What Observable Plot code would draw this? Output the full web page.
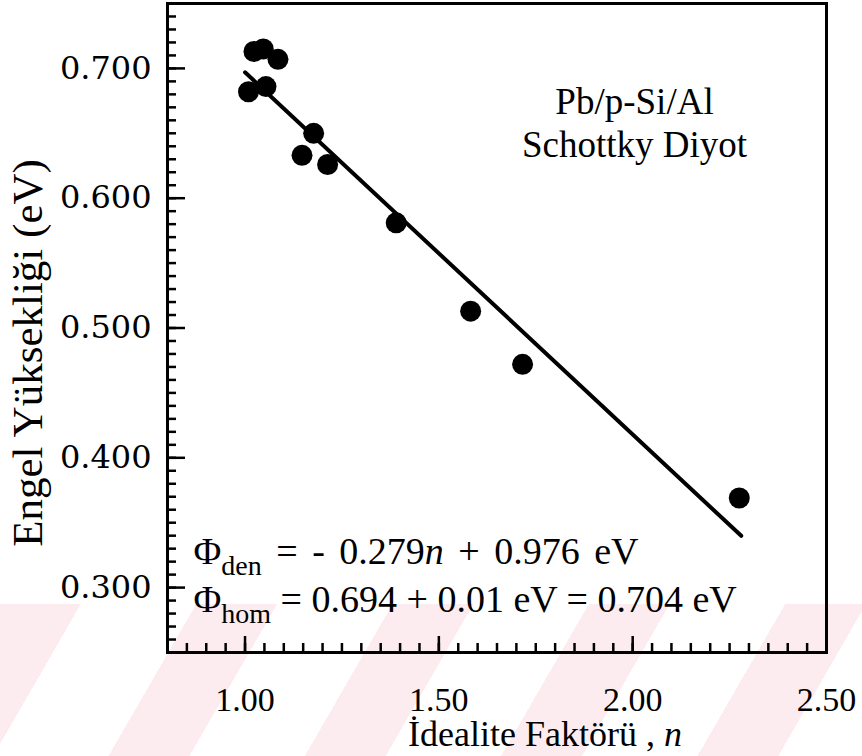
<!DOCTYPE html>
<html>
<head>
<meta charset="utf-8">
<script src="https://cdn.jsdelivr.net/npm/d3@7"></script>
<script src="https://cdn.jsdelivr.net/npm/@observablehq/plot@0.6"></script>
<style>
  html, body { margin: 0; padding: 0; background: #fff; }
  #chart { position: relative; width: 862px; height: 756px; overflow: hidden; }
  /* faint pink diagonal band along the bottom of the page */
  #band {
    position: absolute; left: 0; top: 604px; width: 862px; height: 152px;
    background: repeating-linear-gradient(120deg, rgba(247, 192, 202, 0.30) 0 70px, rgba(255, 255, 255, 0) 70px 170px);
  }
  #chart svg { position: absolute; left: 0; top: 0; }
  #chart svg, #chart svg text { font-family: "Liberation Serif", "Times New Roman", serif; }
  #chart svg g[aria-label="y-axis tick label"] text { font-family: "DejaVu Serif", serif; }
</style>
</head>
<body>
<div id="chart"><div id="band"></div></div>
<script>
// Barrier height vs. ideality factor for Pb/p-Si/Al Schottky diodes
const idealityFactor = [1.009, 1.023, 1.047, 1.054, 1.085, 1.147, 1.177, 1.213, 1.390, 1.582, 1.716, 2.275];
const barrierHeight  = [0.682, 0.713, 0.715, 0.686, 0.707, 0.633, 0.650, 0.626, 0.581, 0.513, 0.472, 0.369];

// linear fit  Φ = -0.279 n + 0.976 eV, drawn over the measured n range
const fitSlope = -0.279;
const fitIntercept = 0.976;
const fitRange = [1.00, 2.28];

const xTicks = [1.00, 1.50, 2.00, 2.50];
const yTicks = [0.300, 0.400, 0.500, 0.600, 0.700];
const xDomain = [0.80, 2.50];
const yDomain = [0.25, 0.75];

const xTitleParts = [{text: "İdealite Faktörü , "}, {text: "n", italic: true}];
const yTitle = "Engel Yüksekliği (eV)";
const deviceLabel = "Pb/p-Si/Al\nSchottky Diyot";
const fitEquationParts = [
  {text: "Φ"}, {text: "den", sub: true}, {text: " = - 0.279"}, {text: "n", italic: true}, {text: " + 0.976 eV"}
];
const homogeneousParts = [
  {text: "Φ"}, {text: "hom", sub: true}, {text: " = 0.694 + 0.01 eV = 0.704 eV"}
];

const xMinor = d3.range(0, 35).map(i => +(xDomain[0] + i * 0.05).toFixed(2));
const yMinor = d3.range(0, 51).map(i => +(yDomain[0] + i * 0.01).toFixed(2));

const points = idealityFactor.map((n, i) => ({n, phi: barrierHeight[i]}));
const fit = fitRange.map(n => ({n, phi: fitSlope * n + fitIntercept}));

const plain = parts => parts.map(p => p.text).join("");
const tickStyle = {stroke: "#000", strokeWidth: 2.5, text: null, label: null};

const plot = Plot.plot({
  width: 862,
  height: 756,
  marginLeft: 167,
  marginRight: 36,
  marginTop: 3,
  marginBottom: 104,
  style: {fontFamily: "Liberation Serif", fontSize: "36px", color: "#000", background: "transparent", overflow: "visible"},
  x: {domain: xDomain},
  y: {domain: yDomain},
  marks: [
    // inward tick marks on the bottom and left edges
    Plot.axisX(xMinor, {...tickStyle, tickSize: -9}),
    Plot.axisX(xTicks, {...tickStyle, tickSize: -16}),
    Plot.axisY(yMinor, {...tickStyle, tickSize: -9}),
    Plot.axisY(yTicks, {...tickStyle, tickSize: -18}),
    // tick labels
    Plot.axisX(xTicks, {tickSize: 0, tickPadding: 34, tickFormat: d3.format(".2f"), fontSize: 34, label: null}),
    Plot.axisY(yTicks, {tickSize: 0, tickPadding: 16, tickFormat: d3.format(".3f"), fontSize: 32, label: null}),
    Plot.frame({stroke: "#000", strokeWidth: 3}),
    // fitted line and measurements
    Plot.line(fit, {x: "n", y: "phi", stroke: "#000", strokeWidth: 4}),
    Plot.dot(points, {x: "n", y: "phi", r: 10.5, fill: "#000", stroke: null}),
    // annotations
    Plot.text([deviceLabel], {frameAnchor: "top-right", textAnchor: "middle", lineAnchor: "middle", dx: -192, dy: 118, lineHeight: 1.18, fontSize: 37}),
    Plot.text([plain(fitEquationParts)], {frameAnchor: "bottom-left", textAnchor: "start", lineAnchor: "middle", dx: 26, dy: -101, fontSize: 38}),
    Plot.text([plain(homogeneousParts)], {frameAnchor: "bottom-left", textAnchor: "start", lineAnchor: "middle", dx: 26, dy: -53, fontSize: 38}),
    // axis titles
    Plot.text([plain(xTitleParts)], {frameAnchor: "bottom", textAnchor: "middle", lineAnchor: "middle", dx: 48, dy: 82, fontSize: 36}),
    Plot.text([yTitle], {frameAnchor: "left", textAnchor: "middle", lineAnchor: "middle", rotate: -90, dx: -139, dy: 25, fontSize: 43})
  ]
});

document.getElementById("chart").appendChild(plot);

// mixed-style text: subscripts and italic n
function richText(parts, spacing) {
  const full = plain(parts);
  const t = d3.select(plot).selectAll("text").filter(function() { return this.textContent === full; });
  t.text(null);
  if (spacing) t.attr("word-spacing", spacing);
  let shifted = false;
  for (const p of parts) {
    const s = t.append("tspan").text(p.text);
    if (p.italic) s.attr("font-style", "italic");
    if (p.sub) { s.attr("font-size", 28).attr("dy", 11); shifted = true; }
    else if (shifted) { s.attr("dy", -11); shifted = false; }
  }
}

richText(xTitleParts);
richText(fitEquationParts, "5px");
richText(homogeneousParts);
</script>
</body>
</html>
